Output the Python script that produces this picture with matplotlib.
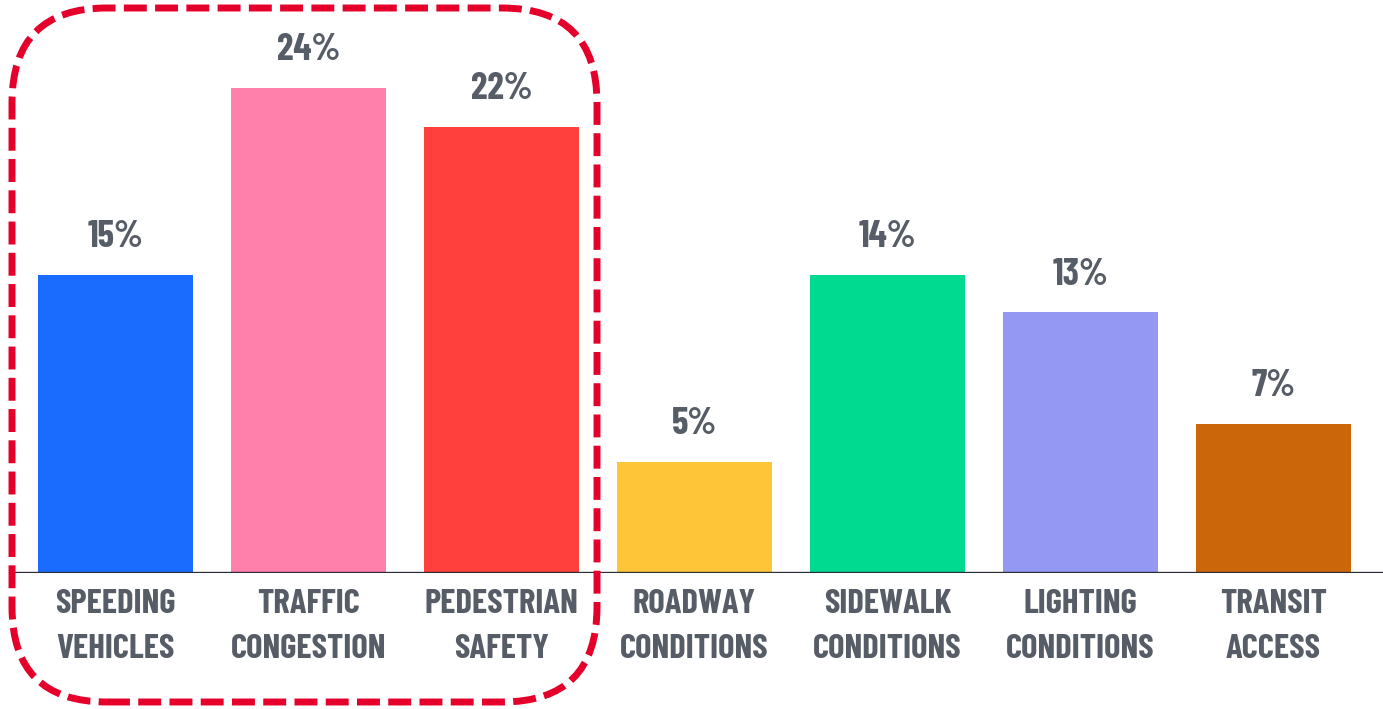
import matplotlib.pyplot as plt
from matplotlib.patches import FancyBboxPatch
from matplotlib.transforms import IdentityTransform

categories = ["SPEEDING\nVEHICLES", "TRAFFIC\nCONGESTION", "PEDESTRIAN\nSAFETY",
              "ROADWAY\nCONDITIONS", "SIDEWALK\nCONDITIONS", "LIGHTING\nCONDITIONS",
              "TRANSIT\nACCESS"]
values = [14.75, 24.0, 22.1, 5.5, 14.75, 12.9, 7.4]
value_labels = ["15%", "24%", "22%", "5%", "14%", "13%", "7%"]
colors = ["#1a6bff", "#ff80aa", "#ff403d", "#fdc537", "#00d990", "#9598f3", "#cc660a"]

text_color = "#575d66"
font = ["Barlow Condensed", "DejaVu Sans"]

W, H = 1383, 709
fig = plt.figure(figsize=(W / 100, H / 100), dpi=100)
base = 136  # px from bottom
ax = fig.add_axes([0, base / H, 1, (H - base) / H])

x = list(range(len(categories)))
ax.bar(x, values, width=0.80, color=colors, zorder=2)
ax.set_xlim(-115.5 / 193, (W - 115.5) / 193)
ax.set_ylim(0, (H - base) / 20.2)

for xi, v, lab in zip(x, values, value_labels):
    ax.annotate(lab, (xi, v), xytext=(0, 20), textcoords="offset points",
                ha="center", va="baseline", fontsize=27, fontweight="bold",
                color=text_color, family=font)

for xi, cat in zip(x, categories):
    ax.text(xi, -2.65, cat, ha="center", va="center", fontsize=25, fontweight="bold",
            color=text_color, family=font, linespacing=1.65)

ax.axhline(0, xmin=10 / W, xmax=1, color="#2a2d35", lw=2.4, zorder=3)
ax.axis("off")

# dashed rounded box around the first three categories
box = FancyBboxPatch((12, 7), 585, 694, boxstyle="round,pad=0,rounding_size=95",
                     transform=IdentityTransform(), fill=False, edgecolor="#e4002b",
                     lw=5, linestyle=(0, (3.3, 1.2)), zorder=5)
fig.patches.append(box)

fig.savefig("out.png", dpi=100)
